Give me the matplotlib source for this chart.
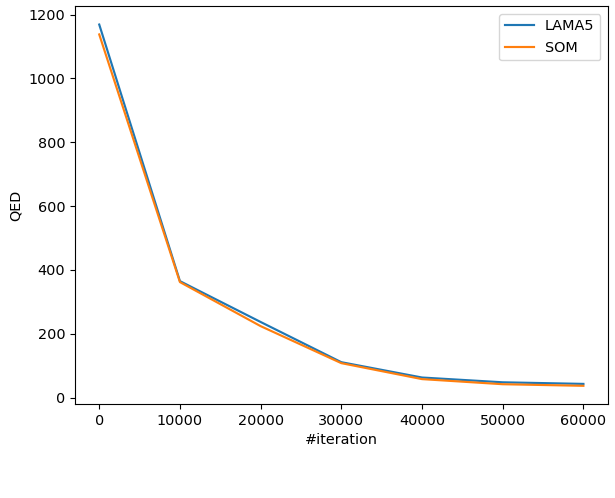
import numpy as np
import matplotlib
matplotlib.use("Agg")
import matplotlib.pyplot as plt

iterations = [0, 10000, 20000, 30000, 40000, 50000, 60000]
qed_lama5 = [1169, 365, 237, 111, 63, 48, 43]
qed_som = [1138, 362, 224, 108, 58, 42, 37]

plt.rcParams['font.size'] = 10.4
plt.rcParams['lines.linewidth'] = 1.55

fig = plt.figure(figsize=(6.15, 4.98), dpi=100)
ax = fig.add_axes([0.122, 0.189, 0.866, 0.798])

ax.plot(iterations, qed_lama5, label='LAMA5')
ax.plot(iterations, qed_som, label='SOM')

ax.set_xlabel('#iteration')
ax.set_ylabel('QED')
ax.set_yticks([0, 200, 400, 600, 800, 1000, 1200])
ax.legend()

plt.savefig('out.png', dpi=100)
